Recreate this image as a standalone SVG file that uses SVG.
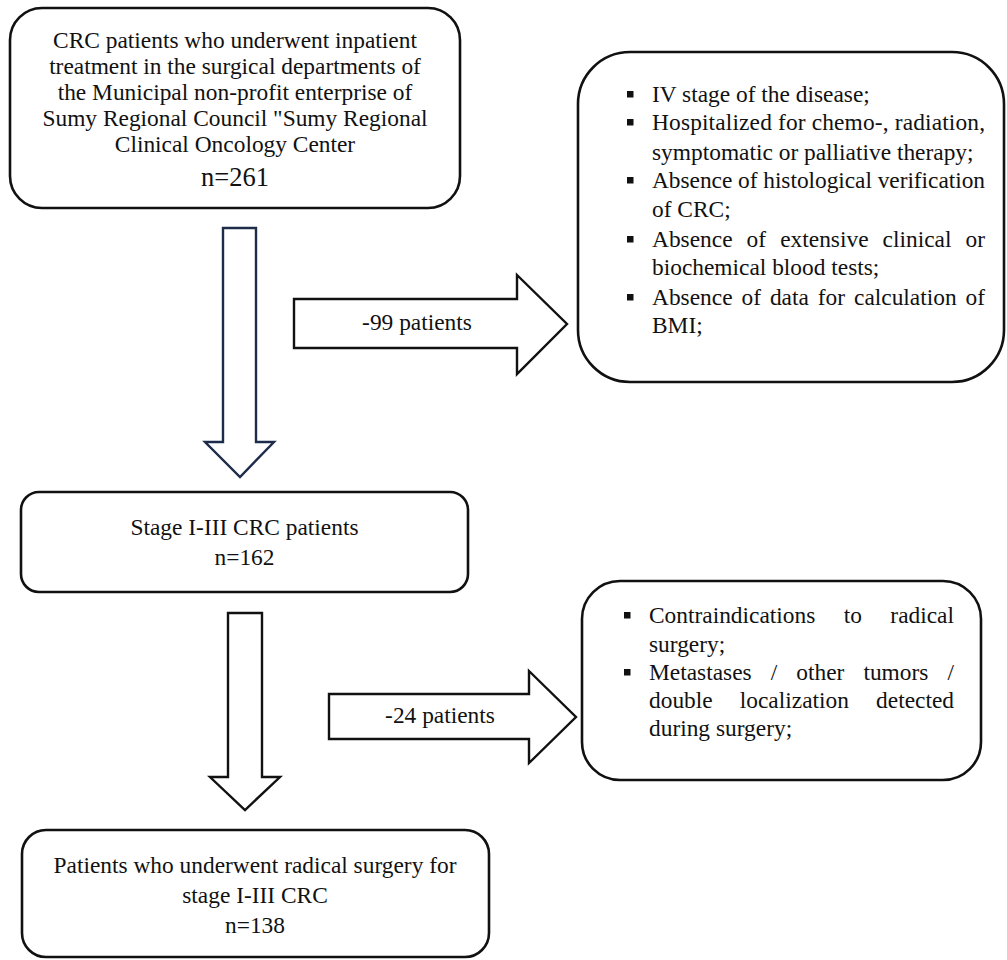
<svg xmlns="http://www.w3.org/2000/svg" width="1007" height="960" viewBox="0 0 1007 960">
<style>
.box{fill:#fff;stroke:#111;stroke-width:2.6}
.arr{fill:#fff;stroke:#111;stroke-width:2.4;stroke-linejoin:miter}
.t{font-family:"Liberation Serif","Times New Roman",serif;font-size:23.4px;fill:#111}
.c{text-anchor:middle}
.e{text-anchor:end}
.b{fill:#111}
</style>
<rect width="1007" height="960" fill="#fff"/>
<g id="connectors">
<polygon class="arr" style="stroke:#1d2c4a" points="223,228 256,228 256,442 274,442 240,477 205,442 223,442"/>
<polygon class="arr" points="294,299 517,299 517,275 567,324 517,374 517,348 294,348"/>
<text class="t c" x="417" y="330">-99 patients</text>
<polygon class="arr" points="228,613 262,613 262,777 280,777 245,810 210,777 228,777"/>
<polygon class="arr" points="329,694 529,694 529,671 576,717 529,763 529,739 329,739"/>
<text class="t c" x="440" y="723">-24 patients</text>
</g>
<g id="node-all">
<rect class="box" x="10" y="8" width="450" height="200" rx="32"/>
<text class="t c" x="235" y="48">CRC patients who underwent inpatient</text>
<text class="t c" x="235" y="74">treatment in the surgical departments of</text>
<text class="t c" x="235" y="100">the Municipal non-profit enterprise of</text>
<text class="t c" x="235" y="126">Sumy Regional Council "Sumy Regional</text>
<text class="t c" x="235" y="152">Clinical Oncology Center</text>
<text class="t c" x="235" y="186" style="font-size:26.5px">n=261</text>
</g>
<g id="node-excl1">
<rect class="box" x="578" y="52" width="426" height="330" rx="52"/>
<rect class="b" x="627" y="91" width="6.5" height="6.5"/>
<rect class="b" x="627" y="119" width="6.5" height="6.5"/>
<rect class="b" x="627" y="177" width="6.5" height="6.5"/>
<rect class="b" x="627" y="236" width="6.5" height="6.5"/>
<rect class="b" x="627" y="294" width="6.5" height="6.5"/>
<text class="t" x="652" y="102">IV stage of the disease;</text>
<text class="t" x="652" y="130" textLength="333" lengthAdjust="spacing">Hospitalized for chemo-, radiation,</text>
<text class="t" x="652" y="160">symptomatic or palliative therapy;</text>
<text class="t" x="652" y="188" textLength="333" lengthAdjust="spacing">Absence of histological verification</text>
<text class="t" x="652" y="217">of CRC;</text>
<text class="t" y="247"><tspan x="652">Absence</tspan><tspan x="746.6">of</tspan><tspan x="780.2">extensive</tspan><tspan x="882.6">clinical</tspan></text>
<text class="t e" x="985" y="247">or</text>
<text class="t" x="652" y="275">biochemical blood tests;</text>
<text class="t" y="305"><tspan x="652">Absence</tspan><tspan x="741.5">of</tspan><tspan x="769.9">data</tspan><tspan x="817.8">for</tspan><tspan x="854">calculation</tspan></text>
<text class="t e" x="985" y="305">of</text>
<text class="t" x="652" y="333">BMI;</text>
</g>
<g id="node-stage">
<rect class="box" x="21" y="492" width="447" height="100" rx="18"/>
<text class="t c" x="244.5" y="535">Stage I-III CRC patients</text>
<text class="t c" x="244.5" y="565">n=162</text>
</g>
<g id="node-excl2">
<rect class="box" x="582" y="581" width="399" height="199" rx="38"/>
<rect class="b" x="624" y="612" width="6.5" height="6.5"/>
<rect class="b" x="624" y="669" width="6.5" height="6.5"/>
<text class="t" y="623"><tspan x="649">Contraindications</tspan><tspan x="843.7">to</tspan></text>
<text class="t e" x="954" y="623">radical</text>
<text class="t" x="649" y="652">surgery;</text>
<text class="t" y="680"><tspan x="649">Metastases</tspan><tspan x="770.7">/</tspan><tspan x="796.3">other</tspan><tspan x="863.4">tumors</tspan></text>
<text class="t e" x="954" y="680">/</text>
<text class="t" y="708"><tspan x="649">double</tspan><tspan x="739.8">localization</tspan></text>
<text class="t e" x="954" y="708">detected</text>
<text class="t" x="649" y="736">during surgery;</text>
</g>
<g id="node-final">
<rect class="box" x="22" y="830" width="467" height="127" rx="24"/>
<text class="t c" x="255" y="873">Patients who underwent radical surgery for</text>
<text class="t c" x="255" y="903">stage I-III CRC</text>
<text class="t c" x="255" y="933">n=138</text>
</g>
</svg>
